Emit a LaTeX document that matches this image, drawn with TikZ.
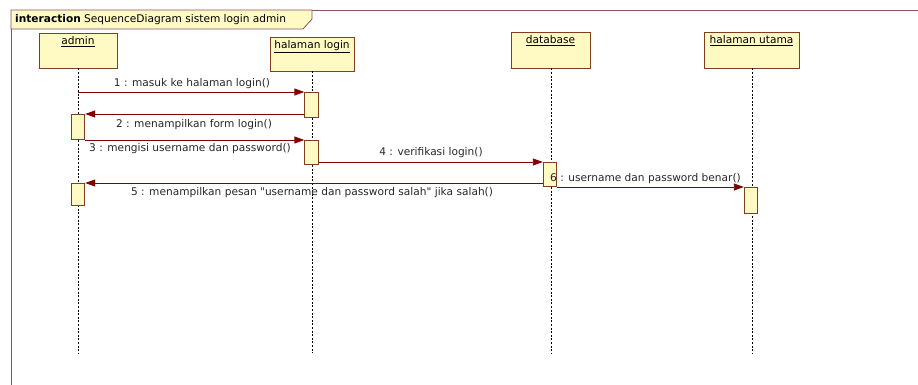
\documentclass[tikz,border=0pt]{standalone}
\usepackage{fontspec}
\setmainfont{DejaVu Sans}
\usetikzlibrary{arrows.meta}
\definecolor{boxfill}{RGB}{255,250,196}
\definecolor{boxline}{RGB}{128,64,32}
\definecolor{msgred}{RGB}{128,0,0}
\definecolor{framecol}{RGB}{140,80,100}
\begin{document}
\begin{tikzpicture}[x=1pt,y=-1pt,
  font=\fontsize{10.6}{12}\selectfont,
  head/.style={draw=boxline,fill=boxfill,line width=0.8pt,inner sep=0pt},
  act/.style={draw=boxline,fill=boxfill,line width=0.8pt,inner sep=0pt,minimum width=13.5pt},
  life/.style={draw=black,line width=0.7pt,dash pattern=on 2pt off 1.6pt},
  msg/.style={draw=msgred,line width=0.8pt,-{Triangle[length=10pt,width=7pt]}},
  lbl/.style={inner sep=0pt,text=black!85}
]
\useasboundingbox (0,0) rectangle (918,385);
% frame
\draw[framecol,line width=0.8pt] (11,385) -- (11,10) -- (918,10);
\draw[framecol,fill=boxfill,line width=0.8pt] (11,10) -- (312,10) -- (312,19) -- (303,29) -- (11,29) -- cycle;
\node[anchor=west,inner sep=0pt] (title) at (15,20) {\textbf{interaction} SequenceDiagram sistem login admin};
% heads
\node[head,minimum width=78pt,minimum height=35pt,label={[anchor=north,inner sep=4pt]north:\underline{admin}}] (admin) at (78,50.5) {};
\node[head,minimum width=84pt,minimum height=34pt,label={[anchor=north,inner sep=4pt]north:\underline{halaman login}}] (login) at (312,54) {};
\node[head,minimum width=79pt,minimum height=36pt,label={[anchor=north,inner sep=4pt]north:\underline{database}}] (db) at (550.5,50) {};
\node[head,minimum width=95pt,minimum height=36pt,label={[anchor=north,inner sep=4pt]north:\underline{halaman utama}}] (utama) at (751.5,50) {};
% lifelines
\coordinate (adminEnd) at (78,353);
\coordinate (loginEnd) at (312,353);
\coordinate (dbEnd) at (551,353);
\coordinate (utamaEnd) at (752,353);
\draw[life] (admin.south) -- (adminEnd);
\draw[life] (login.south) -- (loginEnd);
\draw[life] (db.south -| dbEnd) -- (dbEnd);
\draw[life] (utama.south -| utamaEnd) -- (utamaEnd);
% activations
\node[act,minimum height=25pt] (a1) at (311.5,104.5) {};
\node[act,minimum height=25pt] (a2) at (78,126.5) {};
\node[act,minimum height=24pt] (a3) at (311.5,152) {};
\node[act,minimum height=24pt] (a4) at (550,174) {};
\node[act,minimum height=22pt] (a5) at (78,194) {};
\node[act,minimum height=26pt] (a6) at (751,200) {};
% messages
\coordinate (m1s) at (78,92);
\draw[msg] (m1s) -- (a1.west |- m1s);
\coordinate (m2) at (0,114);
\draw[msg] (a1.west |- m2) -- (a2.east |- m2);
\coordinate (m3) at (0,140);
\draw[msg] (a2.east |- m3) -- (a3.west |- m3);
\coordinate (m4) at (0,162);
\draw[msg] (a3.east |- m4) -- (a4.west |- m4);
\coordinate (m5) at (0,183);
\draw[msg] (a4.west |- m5) -- (a5.east |- m5);
\coordinate (m6) at (0,187);
\draw[msg] (a4.east |- m6) -- (a6.west |- m6);
% labels
\node[lbl] (l1) at (192,84) {1 : masuk ke halaman login()};
\node[lbl] (l2) at (194,124.5) {2 : menampilkan form login()};
\node[lbl] (l3) at (190,149) {3 : mengisi username dan password()};
\node[lbl] (l4) at (431,153) {4 : verifikasi login()};
\node[lbl] (l5) at (312,193) {5 : menampilkan pesan \textquotedbl username dan password salah\textquotedbl{} jika salah()};
\node[lbl] (l6) at (645.5,179) {6 : username dan password benar()};
\end{tikzpicture}
\end{document}
